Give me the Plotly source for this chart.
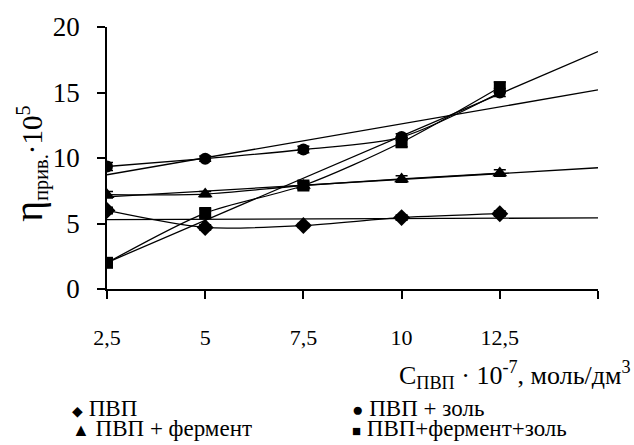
import numpy as np
import plotly.graph_objects as go

# ---- data ----
conc = [2.5, 5, 7.5, 10, 12.5]
pvp = [6.0, 4.7, 4.85, 5.45, 5.75]
pvp_zol = [9.35, 9.95, 10.65, 11.6, 15.0]
pvp_ferm = [7.2, 7.25, 7.9, 8.4, 8.85]
pvp_ferm_zol = [2.0, 5.8, 7.9, 11.2, 15.4]
err_pvp = [0.25, 0.2, 0.15, 0.2, 0.2]
err_zol = [0.3, 0.2, 0.25, 0.25, 0.3]
err_ferm = [0.25, 0.2, 0.2, 0.25, 0.25]
err_fz = [0.2, 0.3, 0.3, 0.35, 0.4]
names = ["ПВП", "ПВП + золь", "ПВП + фермент", "ПВП+фермент+золь"]
x_ticks = [2.5, 5, 7.5, 10, 12.5, 15]
x_ticktext = ["2,5", "5", "7,5", "10", "12,5", ""]
y_ticks = [0, 5, 10, 15, 20]
trend_x = [2.5, 15]

series = [
    (pvp, err_pvp, "diamond", 13),
    (pvp_zol, err_zol, "circle", 12),
    (pvp_ferm, err_ferm, "triangle-up", 13),
    (pvp_ferm_zol, err_fz, "square", 12),
]

FONT = "Liberation Serif"
fig = go.Figure()

for (vals, err, sym, sz), nm in zip(series, names):
    # linear trendline (least squares), extended to x=15
    k, b = np.polyfit(conc, vals, 1)
    fig.add_trace(go.Scatter(
        x=trend_x, y=[k * t + b for t in trend_x], mode="lines",
        line=dict(color="black", width=1.3), showlegend=False, hoverinfo="skip"))
    fig.add_trace(go.Scatter(
        x=conc, y=vals, mode="lines+markers", name=nm,
        line=dict(color="black", width=1.3, shape="spline", smoothing=0.8),
        marker=dict(symbol=sym, size=sz, color="black"),
        error_y=dict(type="data", array=err, color="black", thickness=1.5, width=6),
        showlegend=False))

fig.update_xaxes(
    range=[2.5, 15], tickvals=x_ticks, ticktext=x_ticktext,
    showline=True, linecolor="black", linewidth=2, showgrid=False, zeroline=False,
    ticks="outside", ticklen=8, tickwidth=2, tickcolor="black",
    ticklabelstandoff=20,
    tickfont=dict(family=FONT, size=22, color="black"))
fig.update_yaxes(
    range=[0, 20], tickvals=y_ticks,
    showline=True, linecolor="black", linewidth=1.5, showgrid=False, zeroline=False,
    ticks="outside", ticklen=8, tickwidth=1.5, tickcolor="black",
    ticklabelstandoff=12,
    tickfont=dict(family=FONT, size=27, color="black"))

annotations = [
    dict(text="<span style='font-size:40px'>η</span><sub>прив.</sub>·10<sup>5</sup>",
         xref="paper", yref="paper", x=-0.158, y=0.48, showarrow=False,
         textangle=-90, font=dict(family=FONT, size=29, color="black"),
         xanchor="center", yanchor="middle"),
    dict(text="C<sub>ПВП</sub> · 10<sup>-7</sup>, моль/дм<sup>3</sup>",
         xref="paper", yref="paper", x=1.072, y=-0.33, showarrow=False,
         font=dict(family=FONT, size=26, color="black"),
         xanchor="right", yanchor="middle"),
]
leg_pos = [(70, 409), (350, 409), (70, 430), (350, 430)]
leg_sym = ["◆", "●", "▲", "■"]
leg_sym_size = [14, 19, 18, 15]
for (px, py), s, ss, nm in zip(leg_pos, leg_sym, leg_sym_size, names):
    annotations.append(dict(
        text=f"<span style='font-size:{ss}px'>{s}</span> {nm}",
        xref="paper", yref="paper",
        x=(px - 107) / (598 - 107), y=(289 - py) / (289 - 25),
        showarrow=False, xanchor="left", yanchor="middle",
        font=dict(family=FONT, size=23, color="black")))

fig.update_layout(
    width=634, height=445,
    margin=dict(l=107, r=36, t=25, b=156),
    paper_bgcolor="white", plot_bgcolor="white",
    annotations=annotations, showlegend=False)

fig.write_html("out.html")
